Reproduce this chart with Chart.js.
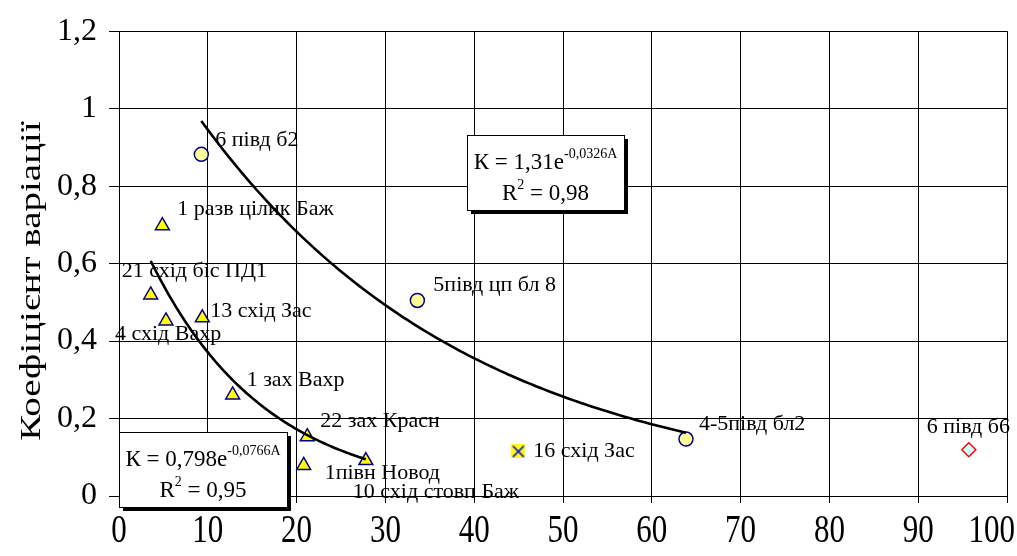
<!DOCTYPE html>
<html>
<head>
<meta charset="utf-8">
<script src="https://cdn.jsdelivr.net/npm/chart.js@4.4.1/dist/chart.umd.min.js"></script>
<style>
  html, body { margin: 0; padding: 0; background: #fff; }
  canvas { display: block; }
</style>
</head>
<body>
<canvas id="c" width="1017" height="556"></canvas>
<script>
// Circle group (exponential fit K = 1,31e^-0,0326A)
const circleA = [9.27, 33.6, 63.85];
const circleK = [0.882, 0.505, 0.147];
const circleNames = ['6 півд б2', '5півд цп бл 8', '4-5півд бл2'];

// Triangle group (exponential fit K = 0,798e^-0,0766A)
const triA = [4.88, 3.57, 5.29, 9.38, 12.8, 21.2, 20.8, 27.8];
const triK = [0.698, 0.519, 0.452, 0.460, 0.261, 0.153, 0.079, 0.0915];
const triNames = ['1 разв цілик Баж', '21 схід біс ПД1', '4 схід Вахр', '13 схід Зас',
                  '1 зах Вахр', '22 зах Красн', '1півн Новод', '10 схід стовп Баж'];

// Single points
const crossA = [44.97];
const crossK = [0.115];
const crossNames = ['16 схід Зас'];

const diamondA = [95.7];
const diamondK = [0.1195];
const diamondNames = ['6 півд б6'];

// Trend line coefficients
const upperFit = { a: 1.31, b: -0.0326, from: 9.27, to: 63.85, label: ['К = 1,31e', '-0,0326A', 'R', '2', ' = 0,98'] };
const lowerFit = { a: 0.798, b: -0.0766, from: 3.57, to: 27.8, label: ['К = 0,798e', '-0,0766A', 'R', '2', ' = 0,95'] };

// Axis ticks
const xTicks = [0, 10, 20, 30, 40, 50, 60, 70, 80, 90, 100];
const yTicks = [0, 0.2, 0.4, 0.6, 0.8, 1, 1.2];
const yTitle = 'Коефіцієнт варіації';

// Label offsets (px) from each marker, per group
const circleOffsets = [[14, -14], [16, -15], [13, -15]];
const triOffsets = [[15, -16], [-29, -24], [-51, 13], [8, -7], [14, -15], [13, -16], [21, 8], [-13, 32]];
const crossOffsets = [[15, 0]];
const diamondOffsets = [[-42, -22]];

const SERIF = '"Liberation Serif", "Times New Roman", serif';

function pts(xs, ys) { return xs.map((x, i) => ({ x: x, y: ys[i] })); }
function trend(f) {
  const out = [];
  const n = 120;
  for (let i = 0; i <= n; i++) {
    const x = f.from + (f.to - f.from) * i / n;
    out.push({ x: x, y: f.a * Math.exp(f.b * x) });
  }
  return out;
}

// Marker: yellow square with a blue diagonal cross
const crossMarker = (() => {
  const s = 14;
  const c = document.createElement('canvas');
  c.width = s; c.height = s;
  const g = c.getContext('2d');
  g.fillStyle = '#ffff00';
  g.fillRect(0, 0, s, s);
  g.strokeStyle = '#0000ff';
  g.lineWidth = 1.6;
  g.beginPath();
  g.moveTo(1.5, 1.5); g.lineTo(s - 1.5, s - 1.5);
  g.moveTo(s - 1.5, 1.5); g.lineTo(1.5, s - 1.5);
  g.stroke();
  return c;
})();

const labelGroups = [
  { ds: 2, names: circleNames, offsets: circleOffsets },
  { ds: 3, names: triNames, offsets: triOffsets },
  { ds: 4, names: crossNames, offsets: crossOffsets },
  { ds: 5, names: diamondNames, offsets: diamondOffsets }
];

const pointLabels = {
  id: 'pointLabels',
  afterDatasetsDraw(chart) {
    const ctx = chart.ctx;
    ctx.save();
    ctx.font = '22px ' + SERIF;
    ctx.fillStyle = '#000';
    ctx.textAlign = 'left';
    ctx.textBaseline = 'middle';
    labelGroups.forEach(g => {
      const meta = chart.getDatasetMeta(g.ds);
      meta.data.forEach((el, i) => {
        const o = g.offsets[i];
        ctx.fillText(g.names[i], el.x + o[0], el.y + o[1]);
      });
    });
    ctx.restore();
  }
};

function drawEquation(ctx, box, lab) {
  const [x, y, w, h] = box;
  ctx.save();
  ctx.fillStyle = '#000';
  ctx.fillRect(x + 4, y + 4, w, h);
  ctx.fillStyle = '#fff';
  ctx.fillRect(x, y, w, h);
  ctx.strokeStyle = '#000';
  ctx.lineWidth = 1;
  ctx.strokeRect(x + 0.5, y + 0.5, w, h);
  ctx.fillStyle = '#000';
  ctx.textBaseline = 'alphabetic';
  ctx.textAlign = 'left';
  const big = '23px ' + SERIF, small = '14px ' + SERIF;
  // first line: equation with superscript exponent
  ctx.font = big; const w1 = ctx.measureText(lab[0]).width;
  ctx.font = small; const w2 = ctx.measureText(lab[1]).width;
  let sx = x + (w - (w1 + w2)) / 2;
  const b1 = y + 34;
  ctx.font = big; ctx.fillText(lab[0], sx, b1);
  ctx.font = small; ctx.fillText(lab[1], sx + w1, b1 - 11);
  // second line: R squared
  ctx.font = big; const r1 = ctx.measureText(lab[2]).width;
  ctx.font = small; const r2 = ctx.measureText(lab[3]).width;
  ctx.font = big; const r3 = ctx.measureText(lab[4]).width;
  sx = x + (w - (r1 + r2 + r3)) / 2;
  const b2 = y + 65;
  ctx.font = big; ctx.fillText(lab[2], sx, b2);
  ctx.font = small; ctx.fillText(lab[3], sx + r1, b2 - 11);
  ctx.font = big; ctx.fillText(lab[4], sx + r1 + r2, b2);
  ctx.restore();
}

const decorations = {
  id: 'decorations',
  afterDraw(chart) {
    const ctx = chart.ctx;
    const xs = chart.scales.x;
    const area = chart.chartArea;
    // x tick labels, tall condensed look
    ctx.save();
    ctx.fillStyle = '#000';
    ctx.font = '31px ' + SERIF;
    ctx.textAlign = 'center';
    ctx.textBaseline = 'middle';
    xs.ticks.forEach(t => {
      const txt = String(t.value);
      const half = ctx.measureText(txt).width / 2;
      let px = xs.getPixelForValue(t.value);
      if (px + half > chart.width - 2) px = chart.width - 2 - half;
      ctx.save();
      ctx.translate(px, area.bottom + 36);
      ctx.scale(1, 1.28);
      ctx.fillText(txt, 0, 0);
      ctx.restore();
    });
    // y axis title, drawn stretched along its length
    ctx.save();
    ctx.translate(32, 281);
    ctx.rotate(-Math.PI / 2);
    ctx.scale(1.3, 1);
    ctx.font = '30px ' + SERIF;
    ctx.fillText(yTitle, 0, 0);
    ctx.restore();
    ctx.restore();
    // trend equations
    drawEquation(ctx, [467, 135, 157, 75], upperFit.label);
    drawEquation(ctx, [119, 432, 168, 75], lowerFit.label);
  }
};

const fmt = v => String(Math.round(v * 10) / 10).replace('.', ',');

new Chart(document.getElementById('c'), {
  type: 'scatter',
  data: {
    datasets: [
      { data: trend(upperFit), showLine: true, borderColor: '#000', borderWidth: 2.6, pointRadius: 0, order: 0 },
      { data: trend(lowerFit), showLine: true, borderColor: '#000', borderWidth: 2.6, pointRadius: 0, order: 0 },
      { data: pts(circleA, circleK), pointStyle: 'circle', pointRadius: 7, backgroundColor: '#ffff99', borderColor: '#000080', borderWidth: 1.5, order: 1 },
      { data: pts(triA, triK), pointStyle: 'triangle', pointRadius: 8, backgroundColor: '#ffff00', borderColor: '#000080', borderWidth: 1.5, order: 1 },
      { data: pts(crossA, crossK), pointStyle: crossMarker, pointRadius: 7, order: 1 },
      { data: pts(diamondA, diamondK), pointStyle: 'rectRot', pointRadius: 7, backgroundColor: '#ccffff', borderColor: '#ff0000', borderWidth: 1.5, order: 1 }
    ]
  },
  options: {
    responsive: false,
    animation: false,
    layout: { padding: { top: 24, right: 10, left: 0, bottom: 0 } },
    plugins: { legend: { display: false }, tooltip: { enabled: false } },
    scales: {
      x: {
        type: 'linear', min: 0, max: 100,
        afterBuildTicks: s => { s.ticks = xTicks.map(v => ({ value: v })); },
        ticks: { display: false },
        grid: { color: '#000', lineWidth: 1, tickLength: 7 },
        border: { color: '#000', width: 1 },
        afterFit: s => { s.height = 60; }
      },
      y: {
        type: 'linear', min: 0, max: 1.2,
        afterBuildTicks: s => { s.ticks = yTicks.map(v => ({ value: v })); },
        ticks: { color: '#000', padding: 12, font: { family: SERIF, size: 32 }, callback: v => fmt(v) },
        grid: { color: '#000', lineWidth: 1, tickLength: 10 },
        border: { color: '#000', width: 1 },
        afterFit: s => { s.width = 119; }
      }
    }
  },
  plugins: [pointLabels, decorations]
});
</script>
</body>
</html>
